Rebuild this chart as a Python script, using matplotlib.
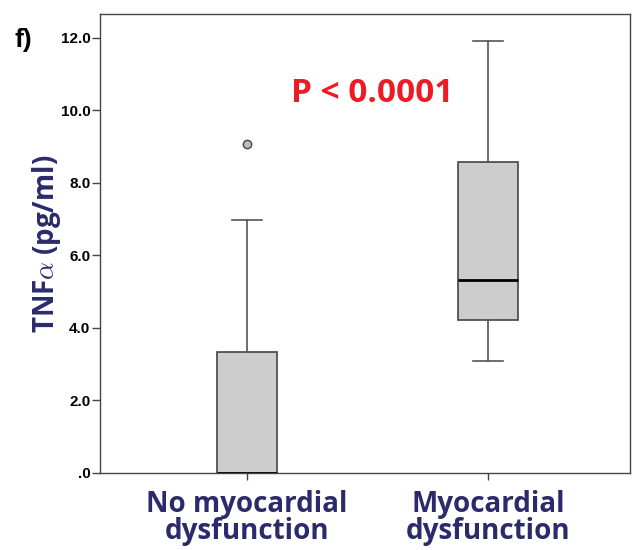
import matplotlib.pyplot as plt

plt.rcParams['mathtext.fontset'] = 'cm'

# Box statistics (pg/ml)
groups = ['No myocardial\ndysfunction', 'Myocardial\ndysfunction']
whislo = [0.0, 3.08]
q1 = [0.0, 4.21]
med = [0.0, 5.32]
q3 = [3.35, 8.57]
whishi = [6.97, 11.92]
fliers = [[9.08], []]
yticks = [0, 2, 4, 6, 8, 10, 12]
ytick_labels = ['.0', '2.0', '4.0', '6.0', '8.0', '10.0', '12.0']

navy = '#2B2A6B'
stats = [dict(whislo=a, q1=b, med=c, q3=d, whishi=e, fliers=f)
         for a, b, c, d, e, f in zip(whislo, q1, med, q3, whishi, fliers)]

fig = plt.figure(figsize=(6.43, 5.5), dpi=100)
ax = fig.add_axes([0.1555, 0.14, 0.825, 0.8345])

ax.bxp(stats, positions=[1, 2], widths=0.25, patch_artist=True,
       boxprops=dict(facecolor='#CDCDCD', edgecolor='#444444', lw=1.2),
       medianprops=dict(color='black', lw=2),
       whiskerprops=dict(color='#555555', lw=1.2),
       capprops=dict(color='#555555', lw=1.2),
       capwidths=0.125,
       flierprops=dict(marker='o', markersize=6, markerfacecolor='#BBBBBB',
                       markeredgecolor='#444444', markeredgewidth=1))

ax.set_xlim(0.39, 2.59)
ax.set_ylim(0, 12.66)
ax.set_yticks(yticks)
ax.set_yticklabels(ytick_labels, fontsize=11, fontweight='bold',
                   family='Liberation Sans')
ax.set_xticks([1, 2])
ax.set_xticklabels(groups, fontsize=20, fontweight='bold', color=navy,
                   family='Open Sans', linespacing=0.92)
ax.tick_params(axis='y', length=6, width=1, color='#444444', pad=1)
ax.tick_params(axis='x', length=5, width=1, color='#444444', pad=7)
for s in ax.spines.values():
    s.set_color('#444444')
    s.set_linewidth(1)

ax.set_ylabel(r'TNF$\alpha$ (pg/ml)', fontsize=20, fontweight='bold',
              color=navy, family='Open Sans', labelpad=-2)

ax.text(1.517, 10.48, 'P < 0.0001', fontsize=24, fontweight='bold',
        color='#ED1C24', family='Open Sans', ha='center', va='center')
fig.text(0.023, 0.927, 'f)', fontsize=19, fontweight='bold',
         family='Liberation Sans', ha='left', va='center')

plt.savefig('out.png', dpi=100)
